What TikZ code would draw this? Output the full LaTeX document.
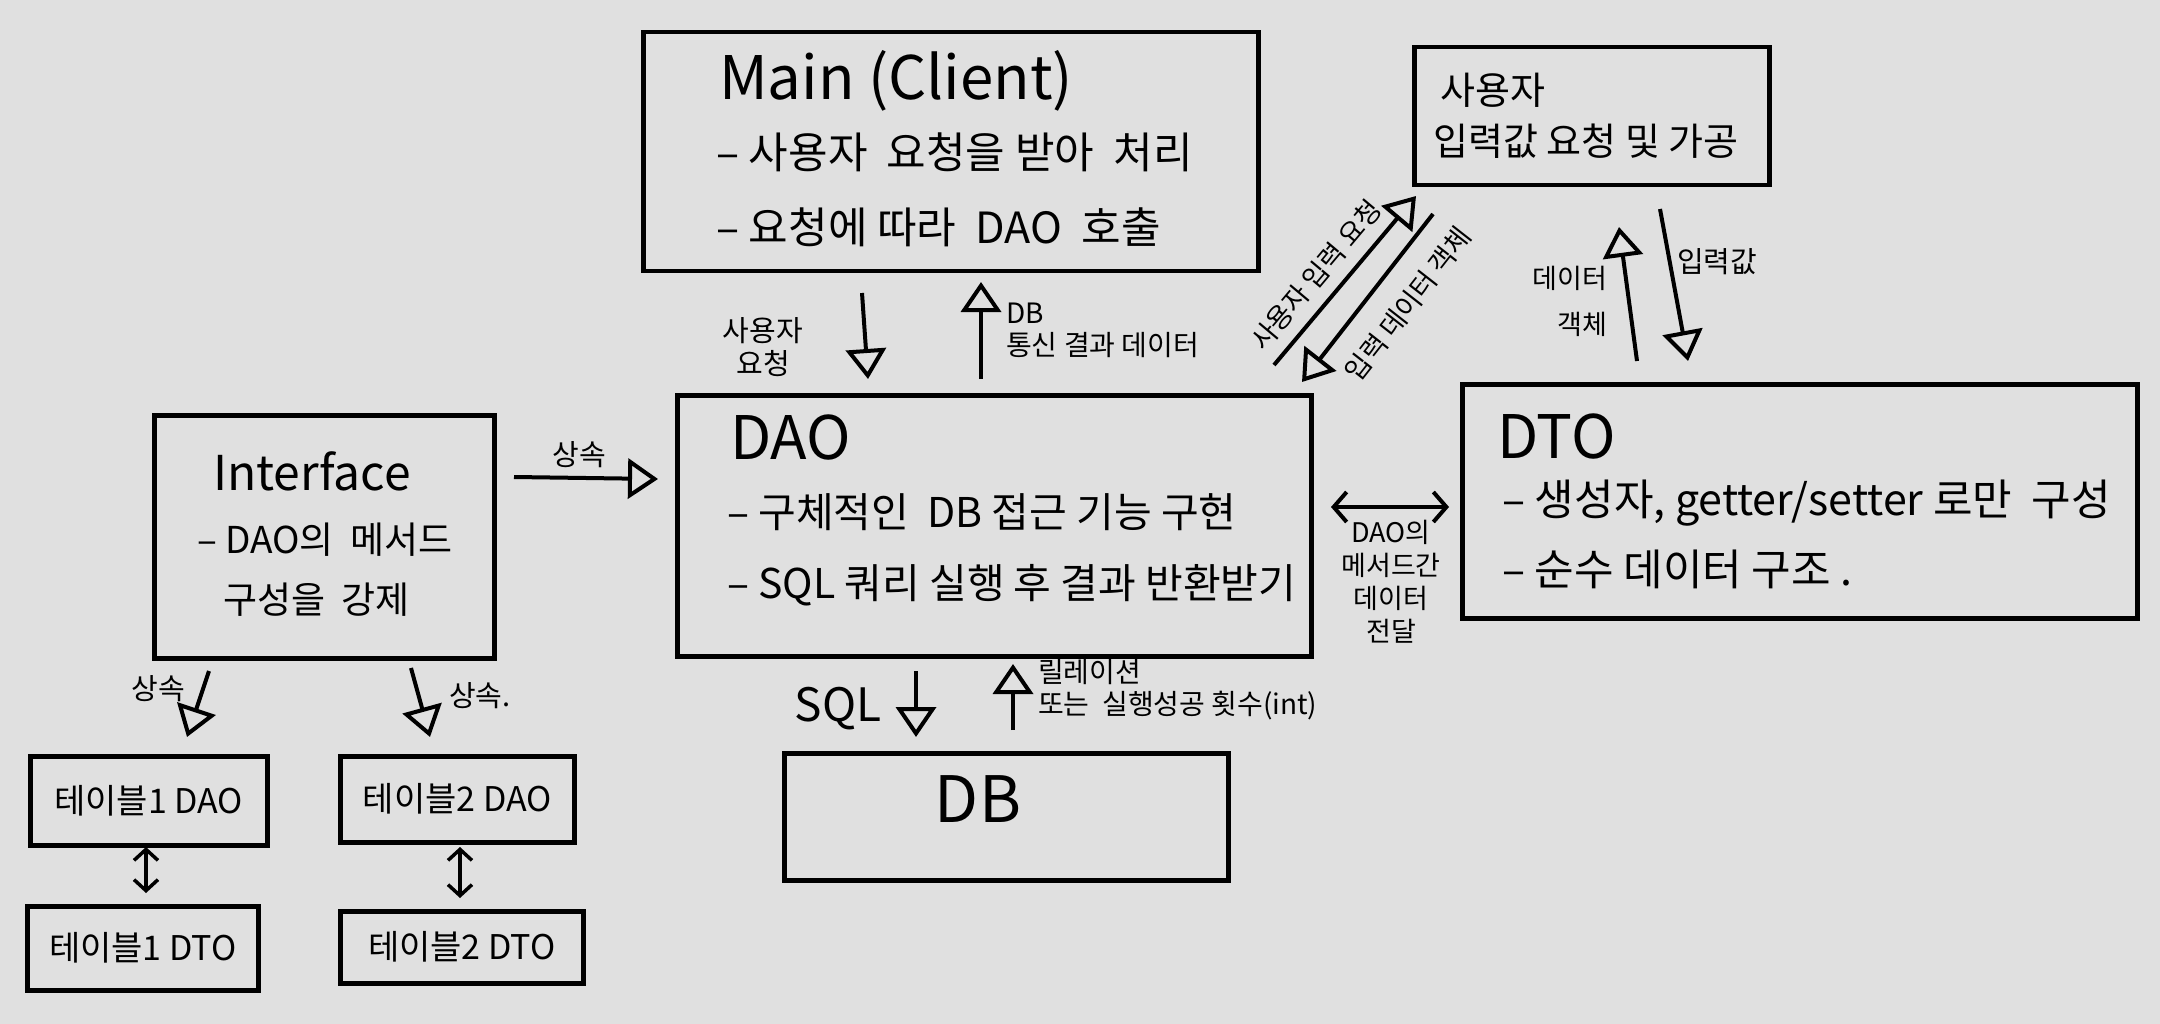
\documentclass[tikz,border=0pt]{standalone}
\usepackage{fontspec}
\setmainfont{Noto Sans CJK KR}
\usetikzlibrary{arrows.meta}
\definecolor{bg}{RGB}{224,224,224}
\newcommand{\fsz}[1]{\fontsize{#1}{#1}\selectfont}
\begin{document}
\begin{tikzpicture}[x=1pt,y=-1pt,
  box/.style={draw, line width=4.5pt, inner sep=0pt, anchor=north west},
  arr/.style={line width=4pt, -{Triangle[open,length=30pt,width=40pt]}},
  dbl/.style={line width=4pt, {Straight Barb[length=13pt,width=30pt]}-{Straight Barb[length=13pt,width=30pt]}},
  sdbl/.style={line width=3.5pt, {Straight Barb[length=11pt,width=24pt]}-{Straight Barb[length=11pt,width=24pt]}},
  ttl/.style={font=\fsz{60}, anchor=west, inner sep=0pt},
  body/.style={font=\fsz{43}, anchor=west, inner sep=0pt},
  lab/.style={font=\fsz{27}, inner sep=0pt, align=center},
  tbl/.style={box, font=\fsz{34}}
]
\fill[bg] (0,0) rectangle (2160,1024);
\useasboundingbox (0,0) rectangle (2160,1024);

% boxes
\node[box, minimum width=615pt, minimum height=239pt] (main) at (641,30) {};
\node[box, minimum width=355pt, minimum height=138pt] (user) at (1412,45) {};
\node[box, minimum width=340pt, minimum height=243pt] (iface) at (152,413) {};
\node[box, minimum width=634pt, minimum height=261pt] (dao) at (675,393) {};
\node[box, minimum width=675pt, minimum height=234pt] (dto) at (1460,382) {};
\node[box, minimum width=444pt, minimum height=127pt] (db) at (782,751) {};
\node[tbl, minimum width=237pt, minimum height=89pt] (t1dao) at (28,754) {테이블1 DAO};
\node[tbl, minimum width=234pt, minimum height=86pt] (t2dao) at (338,754) {테이블2 DAO};
\node[tbl, minimum width=231pt, minimum height=84pt] (t1dto) at (25,904) {테이블1 DTO};
\node[tbl, minimum width=243pt, minimum height=72pt] (t2dto) at (338,909) {테이블2 DTO};

% box texts
\node[ttl] (mainT) at (719,81) {Main (Client)};
\node[body] (mainL1) at (716,152) {– 사용자 \ 요청을 받아 \ 처리};
\node[body] (mainL2) at (716,227) {– 요청에 따라 \ DAO \ 호출};

\node[body, font=\fsz{38}] (userT) at (1440,90) {사용자};
\node[body, font=\fsz{38}] (userL) at (1433,141) {입력값 요청 및 가공};

\node[ttl, font=\fsz{48}] (ifT) at (213,471) {Interface};
\node[body, font=\fsz{37}] (ifL1) at (197,540) {– DAO의 \ 메서드};
\node[body, font=\fsz{37}] (ifL2) at (223,600) {구성을 \ 강제};

\node[ttl] (daoT) at (730,438) {DAO};
\node[body, font=\fsz{41}] (daoL1) at (727,512) {– 구체적인 \ DB 접근 기능 구현};
\node[body, font=\fsz{41}] (daoL2) at (727,585) {– SQL 쿼리 실행 후 결과 반환받기};

\node[ttl] (dtoT) at (1497,437) {DTO};
\node[body] (dtoL1) at (1502,503) {– 생성자, getter/setter 로만 \ 구성};
\node[body] (dtoL2) at (1502,569) {– 순수 데이터 구조 .};

\node[font=\fsz{64}, inner sep=0pt] (dbT) at (978,799) {DB};

% connector end points
\coordinate (a1s) at (862,293); \coordinate (a1e) at (868,379);
\coordinate (a2s) at (981,379); \coordinate (a2e) at (981,282);
\coordinate (a3s) at (1274,365); \coordinate (a3e) at (1416,196);
\coordinate (a4s) at (1433,214); \coordinate (a4e) at (1302,382);
\coordinate (a5s) at (1637,361); \coordinate (a5e) at (1619,227);
\coordinate (a6s) at (1660,209); \coordinate (a6e) at (1688,361);
\coordinate (a7s) at (514,477); \coordinate (a7e) at (658,479);
\coordinate (a8s) at (1331,507); \coordinate (a8e) at (1449,507);
\coordinate (a9s) at (916,671); \coordinate (a9e) at (916,737);
\coordinate (a10s) at (1013,730); \coordinate (a10e) at (1013,664);
\coordinate (a11s) at (209,671); \coordinate (a11e) at (187,737);
\coordinate (a12s) at (411,668); \coordinate (a12e) at (430,737);
\coordinate (a13s) at (146,847); \coordinate (a13e) at (146,893);
\coordinate (a14s) at (460,847); \coordinate (a14e) at (460,898);

\draw[arr] (a1s) -- (a1e);
\draw[arr] (a2s) -- (a2e);
\draw[arr] (a3s) -- (a3e);
\draw[arr] (a4s) -- (a4e);
\draw[arr] (a5s) -- (a5e);
\draw[arr] (a6s) -- (a6e);
\draw[arr] (a7s) -- (a7e);
\draw[dbl] (a8s) -- (a8e);
\draw[arr] (a9s) -- (a9e);
\draw[arr] (a10s) -- (a10e);
\draw[arr] (a11s) -- (a11e);
\draw[arr] (a12s) -- (a12e);
\draw[sdbl] (a13s) -- (a13e);
\draw[sdbl] (a14s) -- (a14e);

% labels
\node[lab, font=\fsz{29}] (l1) at (763,347) {사용자\\[4pt]요청};
\node[lab, anchor=west, align=left, font=\fsz{28}] (l2) at (1006,330) {DB\\[4pt]통신 결과 데이터};
\node[lab, rotate=50] (l3) at (1316,275) {사용자 입력 요청};
\node[lab, rotate=52] (l4) at (1408,304) {입력 데이터 객체};
\node[lab] (l5) at (1570,278) {데이터};
\node[lab] (l6) at (1582,324) {객체};
\node[lab, font=\fsz{29}] (l7) at (1717,262) {입력값};
\node[lab, font=\fsz{29}] (l8) at (579,455) {상속};
\node[lab, font=\fsz{27}] (l9) at (1391,582) {DAO의\\[6pt]메서드간\\[6pt]데이터\\[6pt]전달};
\node[lab, font=\fsz{46}] (l10) at (838,709) {SQL};
\node[lab, anchor=west, align=left, font=\fsz{28}] (l11) at (1038,690) {릴레이션\\[4pt]또는 \ 실행성공 횟수(int)};
\node[lab, font=\fsz{29}] (l12) at (158,689) {상속};
\node[lab, font=\fsz{29}] (l13) at (480,696) {상속.};
\end{tikzpicture}
\end{document}
